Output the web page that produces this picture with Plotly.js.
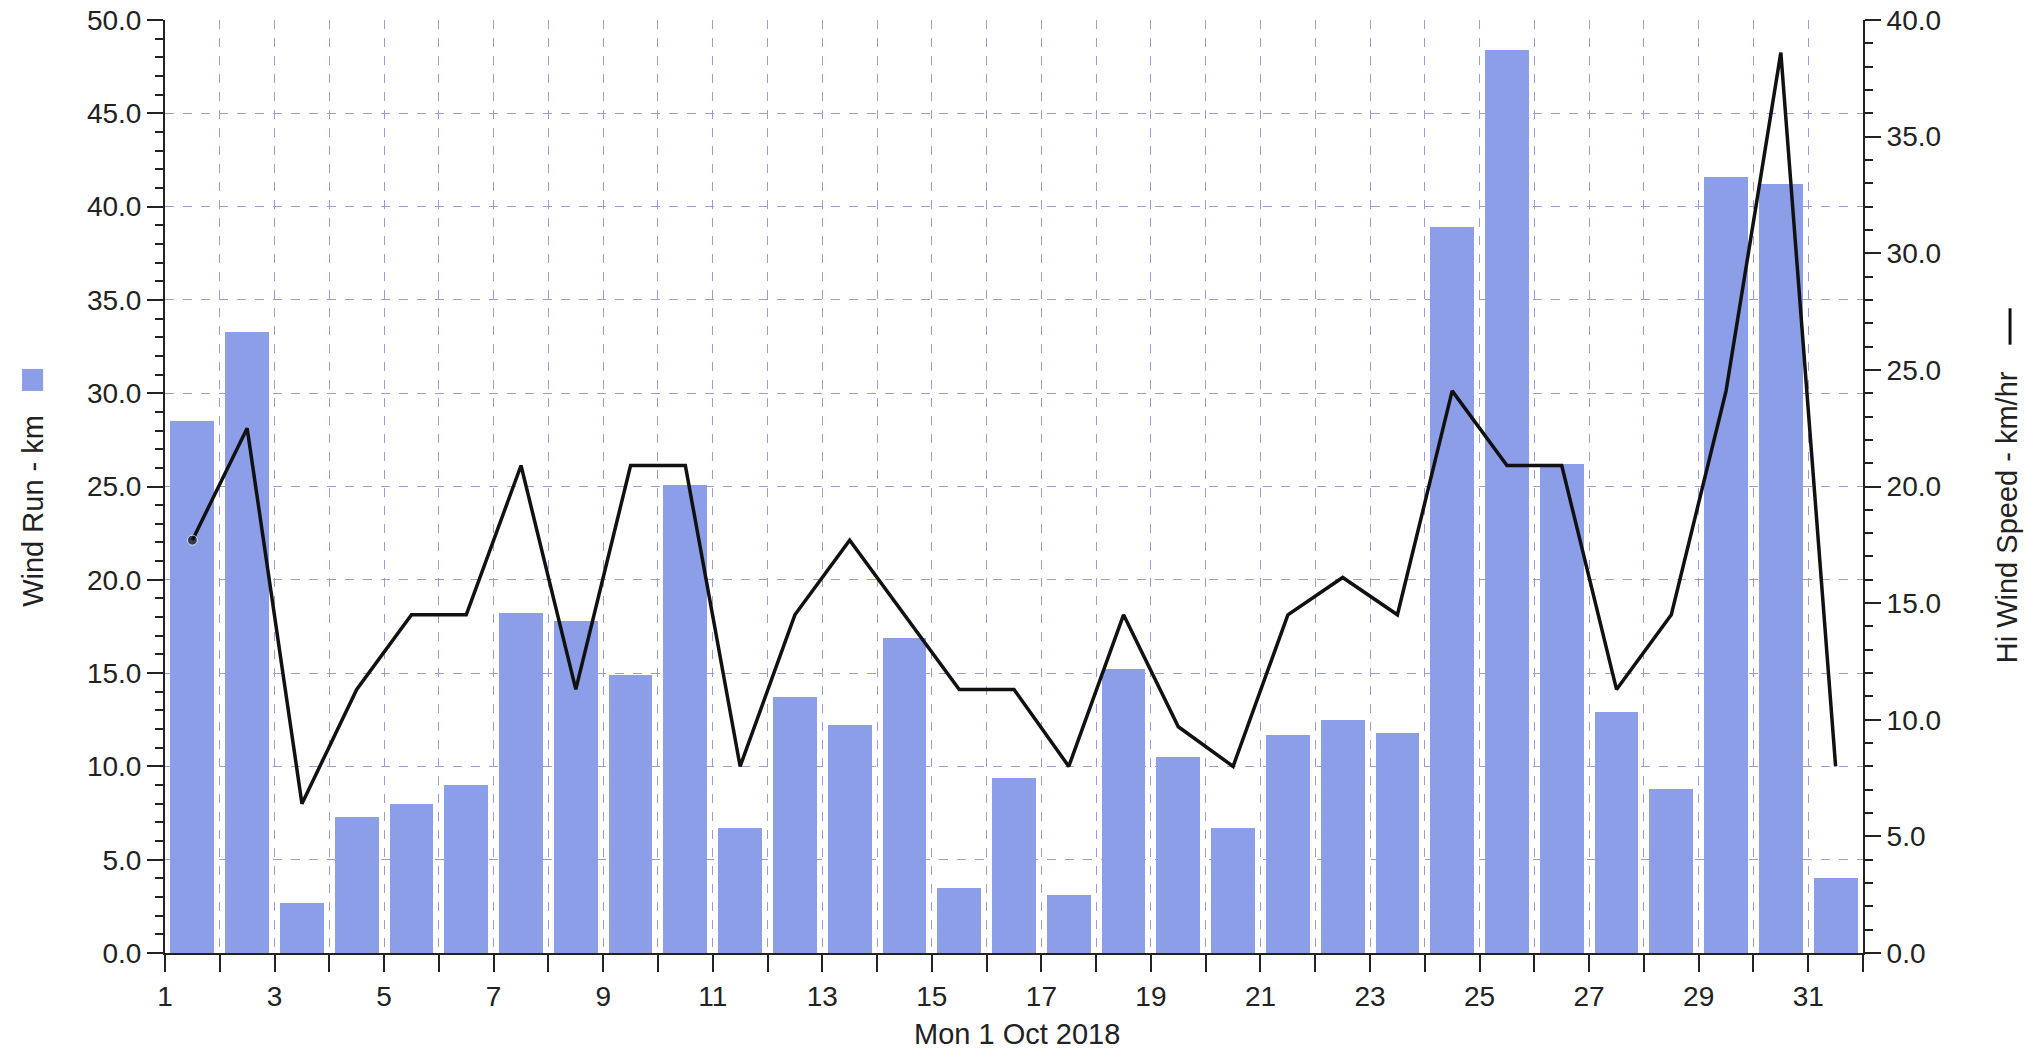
<!DOCTYPE html>
<html>
<head>
<meta charset="utf-8">
<script src="https://cdn.plot.ly/plotly-3.0.1.min.js"></script>
<style>
html,body{margin:0;padding:0;background:#fff;}
#chart{width:2026px;height:1053px;}
</style>
</head>
<body>
<div id="chart"></div>
<script>
// Day of month (October 2018)
const days = [1,2,3,4,5,6,7,8,9,10,11,12,13,14,15,16,17,18,19,20,21,22,23,24,25,26,27,28,29,30,31];
// Wind run per day, km (left axis)
const windRun = [28.5,33.3,2.7,7.3,8.0,9.0,18.2,17.8,14.9,25.1,6.7,13.7,12.2,16.9,3.5,9.4,3.1,15.2,10.5,6.7,11.7,12.5,11.8,38.9,48.4,26.2,12.9,8.8,41.6,41.2,4.0];
// Highest wind speed per day, km/hr (right axis)
const hiWind = [17.7,22.5,6.4,11.3,14.5,14.5,20.9,11.3,20.9,20.9,8.0,14.5,17.7,14.5,11.3,11.3,8.0,14.5,9.7,8.0,14.5,16.1,14.5,24.1,20.9,20.9,11.3,14.5,24.1,38.6,8.0];
// x tick labels
const xTickVals = [1,2,3,4,5,6,7,8,9,10,11,12,13,14,15,16,17,18,19,20,21,22,23,24,25,26,27,28,29,30,31,32];
const xTickText = ["1","","3","","5","","7","","9","","11","","13","","15","","17","","19","","21","","23","","25","","27","","29","","31",""];

const FONT = "Liberation Sans, Arial, sans-serif";
const TXT = "#222";
const GRID = "#9c9cd4";

const xMid = days.map(d => d + 0.5);

const traces = [
  {
    type: "bar",
    x: xMid,
    y: windRun,
    width: 0.8,
    marker: {color: "#8c9ee8", line: {width: 0}},
    name: "Wind Run - km",
    yaxis: "y",
    hoverinfo: "x+y"
  },
  {
    type: "scatter",
    mode: "lines+markers",
    x: xMid,
    y: hiWind,
    line: {color: "#111", width: 3.5},
    marker: {color: "#111", size: hiWind.map((v, i) => i === 0 ? 10 : 0)},
    name: "Hi Wind Speed - km/hr",
    yaxis: "y2",
    hoverinfo: "x+y"
  }
];

const layout = {
  width: 2026,
  height: 1053,
  margin: {l: 165, r: 163, t: 20, b: 100, pad: 0},
  paper_bgcolor: "#fff",
  plot_bgcolor: "#fff",
  showlegend: false,
  bargap: 0,
  font: {family: FONT, size: 27, color: TXT},
  xaxis: {
    range: [1, 32],
    tickmode: "array",
    tickvals: xTickVals,
    ticktext: xTickText,
    ticks: "outside",
    ticklen: 17,
    tickwidth: 2,
    tickcolor: "#222",
    showline: true,
    linecolor: "#222",
    linewidth: 2,
    showgrid: true,
    gridcolor: GRID,
    gridwidth: 1,
    griddash: "dash",
    zeroline: false,
    tickfont: {family: FONT, size: 28, color: TXT},
    fixedrange: true
  },
  yaxis: {
    range: [0, 50],
    tick0: 0,
    dtick: 5,
    tickformat: ".1f",
    ticks: "outside",
    ticklen: 16,
    tickwidth: 2,
    tickcolor: "#222",
    minor: {dtick: 1, ticks: "outside", ticklen: 8, tickwidth: 2, tickcolor: "#222", showgrid: false},
    showline: true,
    linecolor: "#222",
    linewidth: 2,
    showgrid: true,
    gridcolor: GRID,
    gridwidth: 1,
    griddash: "dash",
    zeroline: false,
    tickfont: {family: FONT, size: 28, color: TXT},
    fixedrange: true
  },
  yaxis2: {
    overlaying: "y",
    side: "right",
    range: [0, 40],
    tick0: 0,
    dtick: 5,
    tickformat: ".1f",
    ticks: "outside",
    ticklen: 16,
    tickwidth: 2,
    tickcolor: "#222",
    minor: {dtick: 1, ticks: "outside", ticklen: 8, tickwidth: 2, tickcolor: "#222", showgrid: false},
    showline: true,
    linecolor: "#222",
    linewidth: 2,
    showgrid: false,
    zeroline: false,
    tickfont: {family: FONT, size: 28, color: TXT},
    fixedrange: true
  },
  annotations: [
    {
      text: "Mon 1 Oct 2018",
      xref: "paper", yref: "paper",
      x: 0.5018, y: -0.0868,
      xanchor: "center", yanchor: "middle",
      showarrow: false,
      font: {family: FONT, size: 29, color: TXT}
    },
    {
      text: "Wind Run - km",
      xref: "paper", yref: "paper",
      x: -0.0777, y: 0.474,
      xanchor: "center", yanchor: "middle",
      textangle: -90,
      showarrow: false,
      font: {family: FONT, size: 29, color: TXT}
    },
    {
      text: "Hi Wind Speed - km/hr",
      xref: "paper", yref: "paper",
      x: 1.0848, y: 0.467,
      xanchor: "center", yanchor: "middle",
      textangle: -90,
      showarrow: false,
      font: {family: FONT, size: 29, color: TXT}
    }
  ],
  shapes: [
    {
      type: "rect",
      xref: "paper", yref: "paper",
      x0: -0.0842, x1: -0.0718, y0: 0.6024, y1: 0.626,
      fillcolor: "#8c9ee8",
      line: {width: 0}
    },
    {
      type: "line",
      xref: "paper", yref: "paper",
      x0: 1.0866, x1: 1.0866, y0: 0.652, y1: 0.691,
      line: {color: "#111", width: 3}
    }
  ]
};

Plotly.newPlot("chart", traces, layout, {displayModeBar: false, staticPlot: true});
</script>
</body>
</html>
